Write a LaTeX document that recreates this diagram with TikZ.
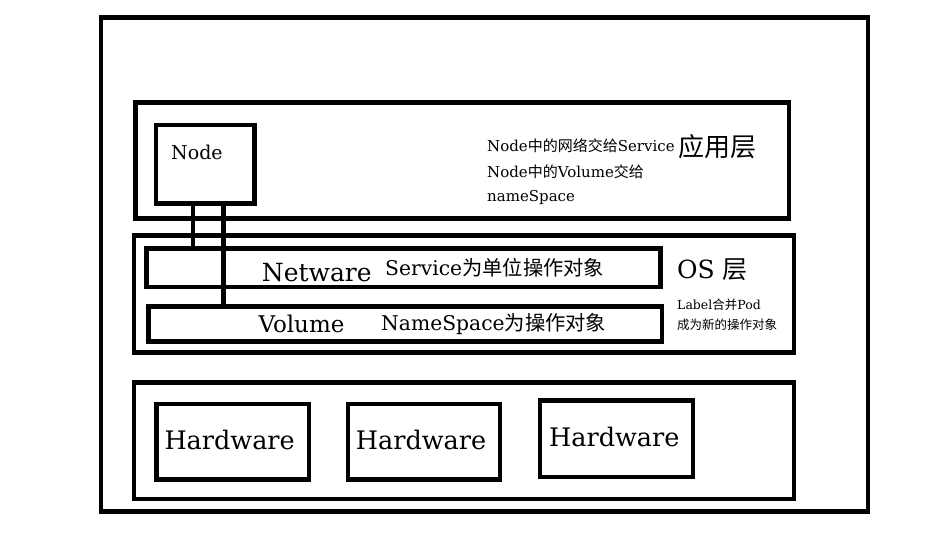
\documentclass[tikz,border=0pt]{standalone}
\usepackage{fontspec}
\usepackage{tikz}
\usetikzlibrary{fit}
\setmainfont{DejaVu Serif}
\newfontfamily\cjk{Noto Sans CJK SC}
\newcommand{\pxsize}[1]{\fontsize{#1}{#1}\selectfont}
\definecolor{black}{RGB}{0,0,0}

\begin{document}
\begin{tikzpicture}[x=1pt, y=-1pt,
    box/.style={draw=black, line width=4.5pt, inner sep=0pt, outer sep=0pt},
    wire/.style={draw=black, line width=4.5pt},
    lbl/.style={anchor=base west, inner sep=0pt}]

        \useasboundingbox[fill=white] (0,0) rectangle (936,546);

        \node[box, fit={(100.8,17.5) (868,511.5)}] (outer) {};
        \node[box, fit={(135.5,102.5) (789,218.5)}] (app) {};
        \node[box, fit={(156,125) (254.5,203.5)}] (node) {};
        \node[box, fit={(134,235.5) (794,352.5)}] (os) {};
        \node[box, fit={(146.5,248.5) (660.5,287)}] (netware) {};
        \node[box, fit={(148.5,306.5) (662,341.5)}] (volume) {};
        \node[box, fit={(134,382.5) (794,499)}] (hw) {};
        \node[box, fit={(156.7,404) (309,479.5)}] (hwa) {};
        \node[box, fit={(348,404) (500,479.5)}] (hwb) {};
        \node[box, fit={(540,400.5) (693,477)}] (hwc) {};

        \coordinate (netwire) at (193,0);
        \coordinate (volwire) at (223.3,0);
        \draw[wire] (node.south -| netwire) -- (netware.north -| netwire);
        \draw[wire] (node.south -| volwire) -- (volume.north -| volwire);

        \node[lbl, font=\pxsize{19}] (nodetxt) at (171,159.3) {Node};
        \node[lbl, font=\pxsize{15}] (appa) at (487,151.7) {Node{\cjk 中的网络交给}Service};
        \node[lbl, font=\pxsize{26}\cjk] (apptitle) at (678,156.7) {应用层};
        \node[lbl, font=\pxsize{15}] (appb) at (487,177.3) {Node{\cjk 中的}Volume{\cjk 交给}};
        \node[lbl, font=\pxsize{15}] (appc) at (487,201) {nameSpace};

        \node[lbl, font=\pxsize{25}] (nettxt) at (261.7,281.7) {Netware};
        \node[lbl, font=\pxsize{20.3}] (netnote) at (385,275) {Service{\cjk 为单位操作对象}};
        \node[lbl, font=\pxsize{23}] (voltxt) at (258.3,332.3) {Volume};
        \node[lbl, font=\pxsize{20.3}] (volnote) at (381,330) {NameSpace{\cjk 为操作对象}};
        \node[lbl, font=\pxsize{25}] (ostitle) at (677,278.3) {OS {\cjk 层}};
        \node[lbl, font=\pxsize{12.5}] (osa) at (677,309) {Label{\cjk 合并}Pod};
        \node[lbl, font=\pxsize{12.5}\cjk] (osb) at (677,329) {成为新的操作对象};

        \node[lbl, font=\pxsize{25.5}] (hwatxt) at (164.3,449.3) {Hardware};
        \node[lbl, font=\pxsize{25.5}] (hwbtxt) at (355.7,449.3) {Hardware};
        \node[lbl, font=\pxsize{25.5}] (hwctxt) at (549,446) {Hardware};

\end{tikzpicture}
\end{document}
